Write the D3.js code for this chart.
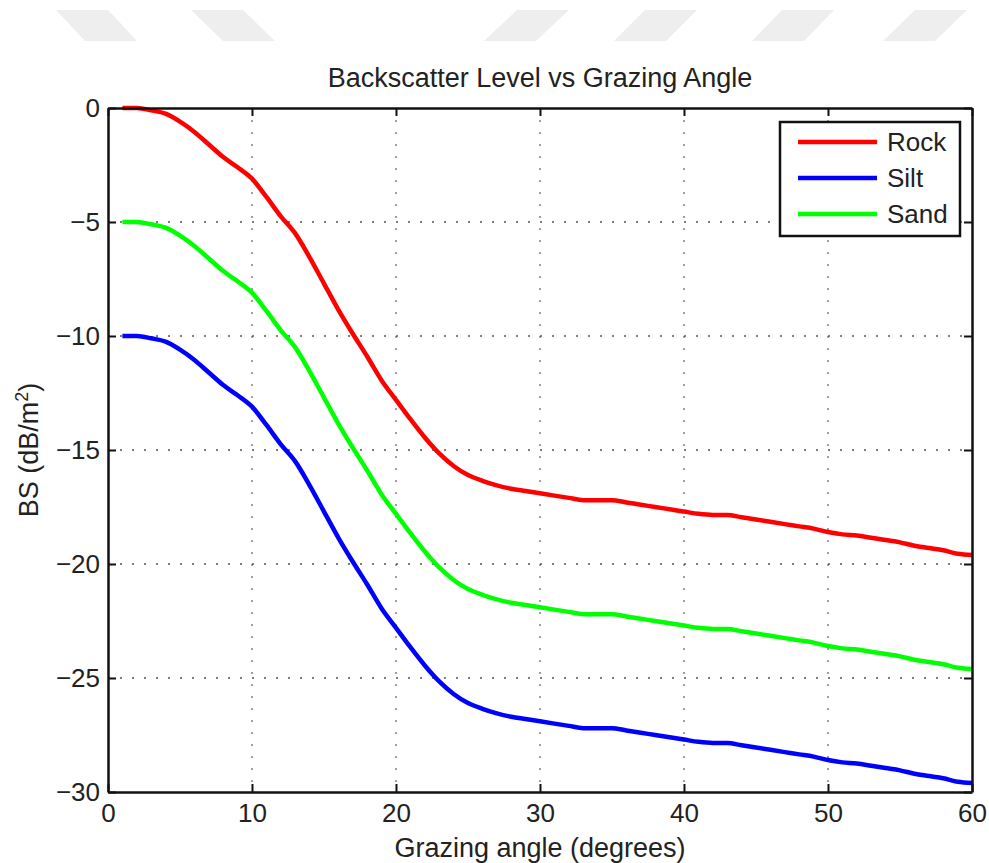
<!DOCTYPE html>
<html>
<head>
<meta charset="utf-8">
<title>Backscatter Level vs Grazing Angle</title>
<script src="https://cdn.jsdelivr.net/npm/d3@7"></script>
<style>
    body { margin: 0; background: #fff; }
    text { font-family: "Liberation Sans", Arial, Helvetica, sans-serif; fill: #222; }
    .frame path.domain { stroke: #111; stroke-width: 2.5px; }
    .frame .tick line { stroke: #111; stroke-width: 2px; }
    .frame .tick text { font-size: 26px; fill: #222; }
    .grid line { stroke: #555; stroke-width: 1.6px; stroke-dasharray: 2, 10; }
    .grid line.vx { stroke: #888; }
    .curve { fill: none; stroke-width: 4.5px; stroke-linejoin: round; stroke-linecap: butt; }
</style>
</head>
<body>
<div id="vis"></div>
<script>
    // grazing angle (degrees)
    var angles = [1, 2, 3, 4, 5, 6, 7, 8, 9, 10, 11, 12, 13, 14, 15, 16, 17, 18, 19, 20,
        21, 22, 23, 24, 25, 26, 27, 28, 29, 30, 31, 32, 33, 34, 35, 36, 37, 38, 39, 40,
        41, 42, 43, 44, 45, 46, 47, 48, 49, 50, 51, 52, 53, 54, 55, 56, 57, 58, 59, 60];

    // backscatter levels, dB/m^2
    var rock = [0, 0, -0.1, -0.25, -0.6, -1.05, -1.6, -2.15, -2.6, -3.1,
        -3.9, -4.75, -5.5, -6.55, -7.7, -8.85, -9.9, -10.9, -11.95, -12.8,
        -13.65, -14.45, -15.15, -15.7, -16.1, -16.35, -16.55, -16.7, -16.8, -16.9,
        -17.0, -17.1, -17.2, -17.2, -17.2, -17.3, -17.4, -17.5, -17.6, -17.7,
        -17.8, -17.85, -17.85, -17.95, -18.05, -18.15, -18.25, -18.35, -18.45, -18.6,
        -18.7, -18.75, -18.85, -18.95, -19.05, -19.2, -19.3, -19.4, -19.55, -19.6];

    var silt = [-10, -10, -10.1, -10.25, -10.6, -11.05, -11.6, -12.15, -12.6, -13.1,
        -13.9, -14.75, -15.5, -16.55, -17.7, -18.85, -19.9, -20.9, -21.95, -22.8,
        -23.65, -24.45, -25.15, -25.7, -26.1, -26.35, -26.55, -26.7, -26.8, -26.9,
        -27.0, -27.1, -27.2, -27.2, -27.2, -27.3, -27.4, -27.5, -27.6, -27.7,
        -27.8, -27.85, -27.85, -27.95, -28.05, -28.15, -28.25, -28.35, -28.45, -28.6,
        -28.7, -28.75, -28.85, -28.95, -29.05, -29.2, -29.3, -29.4, -29.55, -29.6];

    var sand = [-5, -5, -5.1, -5.25, -5.6, -6.05, -6.6, -7.15, -7.6, -8.1,
        -8.9, -9.75, -10.5, -11.55, -12.7, -13.85, -14.9, -15.9, -16.95, -17.8,
        -18.65, -19.45, -20.15, -20.7, -21.1, -21.35, -21.55, -21.7, -21.8, -21.9,
        -22.0, -22.1, -22.2, -22.2, -22.2, -22.3, -22.4, -22.5, -22.6, -22.7,
        -22.8, -22.85, -22.85, -22.95, -23.05, -23.15, -23.25, -23.35, -23.45, -23.6,
        -23.7, -23.75, -23.85, -23.95, -24.05, -24.2, -24.3, -24.4, -24.55, -24.6];

    var seriesNames = ["Rock", "Silt", "Sand"];
    var seriesColors = ["#ff0000", "#0000ff", "#00ff00"];
    var seriesValues = [rock, silt, sand];

    var xTicks = [0, 10, 20, 30, 40, 50, 60];
    var yTicks = [0, -5, -10, -15, -20, -25, -30];

    var width = 989, height = 863;
    var plotL = 108, plotR = 972, plotT = 108, plotB = 792;

    var svg = d3.select("#vis").append("svg")
            .attr("width", width)
            .attr("height", height);

    // faded stripes across the top of the page
    var stripes = [[56, 85], [191, 223], [517, 484], [645, 614], [782, 752], [915, 883]];
    svg.selectAll(".stripe")
            .data(stripes)
            .enter()
            .append("path")
            .attr("class", "stripe")
            .attr("fill", "#eeeeee")
            .attr("d", function(d) {
        return "M" + d[0] + " 10 L" + (d[0] + 52) + " 10 L" + (d[1] + 52) + " 41 L" + d[1] + " 41z";
    });

    var x = d3.scaleLinear().domain([0, 60]).range([plotL, plotR]);
    var y = d3.scaleLinear().domain([-30, 0]).range([plotB, plotT]);

    // dotted grid
    var grid = svg.append("g").attr("class", "grid");
    grid.selectAll(".vx")
            .data(xTicks.slice(1, -1))
            .enter()
            .append("line")
            .attr("class", "vx")
            .attr("x1", function(d) { return x(d); })
            .attr("x2", function(d) { return x(d); })
            .attr("y1", plotT)
            .attr("y2", plotB);
    grid.selectAll(".hy")
            .data(yTicks.slice(1, -1))
            .enter()
            .append("line")
            .attr("class", "hy")
            .attr("x1", plotL)
            .attr("x2", plotR)
            .attr("y1", function(d) { return y(d); })
            .attr("y2", function(d) { return y(d); });

    // curves
    var line = d3.line()
            .curve(d3.curveMonotoneX)
            .x(function(d, i) { return x(angles[i]); })
            .y(function(d) { return y(d); });

    svg.selectAll(".curve")
            .data(seriesValues)
            .enter()
            .append("path")
            .attr("class", "curve")
            .attr("stroke", function(d, i) { return seriesColors[i]; })
            .attr("d", line);

    // box with inward ticks on all four sides
    svg.append("g").attr("class", "frame")
            .attr("transform", "translate(0," + plotB + ")")
            .call(d3.axisBottom(x).tickValues(xTicks).tickSize(-8).tickSizeOuter(0).tickPadding(12));
    svg.append("g").attr("class", "frame")
            .attr("transform", "translate(0," + plotT + ")")
            .call(d3.axisTop(x).tickValues(xTicks).tickSize(-8).tickSizeOuter(0).tickFormat(""));
    svg.append("g").attr("class", "frame")
            .attr("transform", "translate(" + plotL + ",0)")
            .call(d3.axisLeft(y).tickValues(yTicks).tickSize(-8).tickSizeOuter(0).tickPadding(8));
    svg.append("g").attr("class", "frame")
            .attr("transform", "translate(" + plotR + ",0)")
            .call(d3.axisRight(y).tickValues(yTicks).tickSize(-8).tickSizeOuter(0).tickFormat(""));

    svg.selectAll(".frame").attr("font-family", null).attr("font-size", null);

    // title and axis labels
    svg.append("text")
            .attr("x", (plotL + plotR) / 2)
            .attr("y", 87)
            .attr("text-anchor", "middle")
            .style("font-size", "27px")
            .text("Backscatter Level vs Grazing Angle");

    svg.append("text")
            .attr("x", (plotL + plotR) / 2)
            .attr("y", 857)
            .attr("text-anchor", "middle")
            .style("font-size", "27px")
            .text("Grazing angle (degrees)");

    var ylab = svg.append("text")
            .attr("transform", "translate(38," + ((plotT + plotB) / 2) + ") rotate(-90)")
            .attr("text-anchor", "middle")
            .style("font-size", "27px");
    ylab.append("tspan").text("BS (dB/m");
    ylab.append("tspan").attr("dy", -10).style("font-size", "18px").text("2");
    ylab.append("tspan").attr("dy", 10).text(")");

    // legend
    var legend = svg.append("g").attr("transform", "translate(780,122)");
    legend.append("rect")
            .attr("width", 180)
            .attr("height", 114)
            .attr("fill", "#fff")
            .attr("stroke", "#111")
            .attr("stroke-width", 2.5);

    var rows = legend.selectAll(".row")
            .data(seriesNames)
            .enter()
            .append("g")
            .attr("transform", function(d, i) { return "translate(0," + (20 + i * 36) + ")"; });
    rows.append("line")
            .attr("x1", 18)
            .attr("x2", 97)
            .attr("stroke", function(d, i) { return seriesColors[i]; })
            .attr("stroke-width", 4.5);
    rows.append("text")
            .attr("x", 107)
            .attr("y", 9)
            .style("font-size", "26px")
            .text(function(d) { return d; });
</script>
</body>
</html>
